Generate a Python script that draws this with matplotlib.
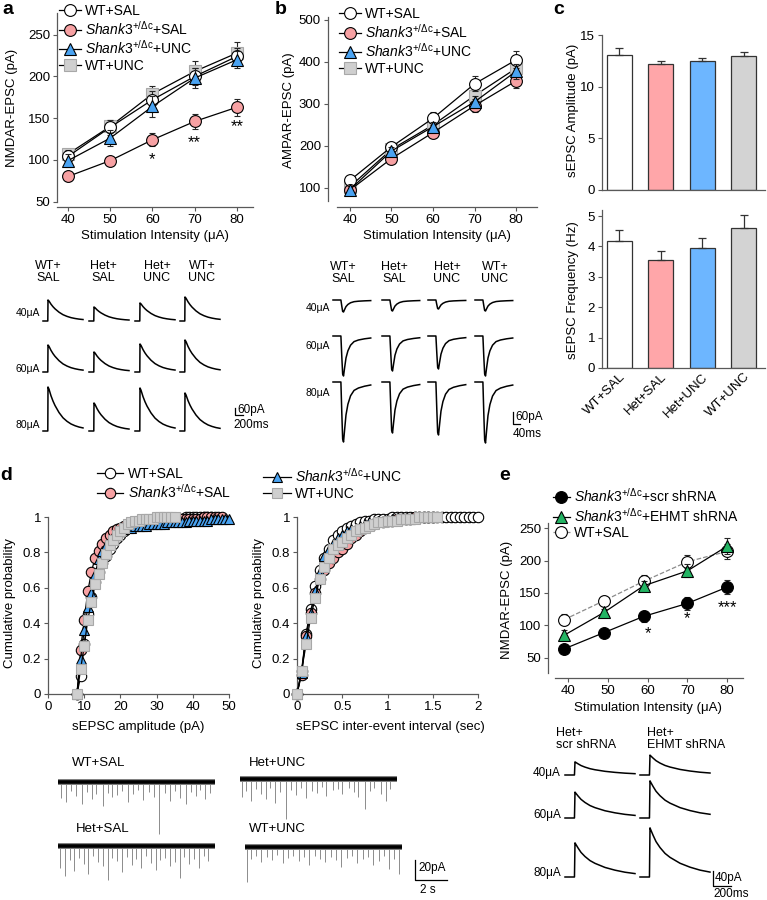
import numpy as np
import matplotlib
matplotlib.use("Agg")
import matplotlib.pyplot as plt
from matplotlib.lines import Line2D

plt.rcParams['font.family'] = ['Liberation Sans', 'DejaVu Sans']
plt.rcParams['mathtext.fontset'] = 'custom'
plt.rcParams['mathtext.rm'] = 'Liberation Sans'
plt.rcParams['mathtext.it'] = 'Liberation Sans:italic'
plt.rcParams['mathtext.bf'] = 'Liberation Sans:bold'

W, H = 767, 900
SH = r'$\mathit{Shank3}^{+/\Delta\mathrm{c}}$'

PINK = '#F7A1A3'
BLUE = '#4AA3F2'
LGRAY = '#CFCFCF'
GREEN = '#23B463'
SPINE = '0.35'
FS = 9.5

# ---------------- data ----------------
stim = [40, 50, 60, 70, 80]

# a: NMDAR-EPSC
nmda_wt_sal = [104, 139, 172, 200, 224]
nmda_wt_sal_err = [8, 9, 10, 10, 10]
nmda_het_sal = [80, 99, 124, 146, 163]
nmda_het_sal_err = [5, 4, 8, 9, 10]
nmda_het_unc = [99, 126, 164, 198, 220]
nmda_het_unc_err = [8, 10, 13, 12, 10]
nmda_wt_unc = [107, 140, 179, 206, 228]
nmda_wt_unc_err = [6, 8, 10, 12, 13]
nmda_stars = [(60, 100, '*'), (70, 120, '**'), (80, 140, '**')]

# b: AMPAR-EPSC
ampa_wt_sal = [118, 198, 266, 348, 405]
ampa_wt_sal_err = [10, 12, 15, 18, 20]
ampa_het_sal = [95, 170, 232, 296, 355]
ampa_het_sal_err = [8, 10, 12, 16, 18]
ampa_het_unc = [96, 188, 246, 305, 378]
ampa_het_unc_err = [8, 10, 12, 14, 18]
ampa_wt_unc = [103, 192, 250, 320, 385]
ampa_wt_unc_err = [8, 10, 12, 15, 18]

# c: sEPSC bars
groups = ['WT+SAL', 'Het+SAL', 'Het+UNC', 'WT+UNC']
bar_colors = ['white', '#FFA6A9', '#6DB6FF', '#D3D3D3']
amp_mean = [13.1, 12.2, 12.5, 13.0]
amp_err = [0.6, 0.3, 0.3, 0.4]
freq_mean = [4.18, 3.55, 3.95, 4.62]
freq_err = [0.35, 0.30, 0.33, 0.42]

# d: cumulative probability
amp_x_wt_sal = np.arange(8, 46)
cum_amp_wt_sal = [0, .10, .28, .45, .55, .63, .69, .74, .78, .82, .85, .88, .90, .92, .94, .95,
                  .96, .97, .97, .98, .98, .98, .99, .99, .99, .99, .99, .99, .99, .99,
                  1, 1, 1, 1, 1, 1, 1, 1]
amp_x_het_sal = np.arange(8, 49)
cum_amp_het_sal = [0, .25, .42, .58, .69, .77, .81, .85, .88, .90, .92, .93, .94, .95, .95, .96,
                   .96, .96, .97, .97, .97, .97, .98, .98, .98, .98, .98, .98, .99, .99, .99,
                   .99, .99, .99, .99, 1, 1, 1, 1, 1, 1]
amp_x_het_unc = np.arange(8, 51)
cum_amp_het_unc = [0, .20, .36, .49, .57, .68, .76, .81, .84, .87, .89, .91, .92, .93, .94, .94,
                   .95, .95, .95, .95, .96, .96, .96, .96, .96, .97, .97, .97, .97, .97, .97,
                   .98, .98, .98, .98, .98, .98, .99, .99, .99, .99, .99, .99]
amp_x_wt_unc = np.arange(8, 36)
cum_amp_wt_unc = [0, .14, .27, .42, .52, .62, .68, .74, .79, .84, .87, .90, .92, .94, .96, .97,
                  .98, .98, .99, .99, .99, .99, 1, 1, 1, 1, 1, 1]

iei_x_wt_sal = np.round(np.arange(0, 41) * 0.05, 2)
cum_iei_wt_sal = [0, .13, .34, .48, .61, .70, .77, .82, .87, .90, .92, .94, .95, .96, .97, .98,
                  .98, .99, .99, .99, .99] + [1] * 20
iei_x_het_sal = np.round(np.arange(0, 31) * 0.05, 2)
cum_iei_het_sal = [0, .11, .33, .46, .57, .65, .70, .74, .77, .80, .82, .85, .88, .90, .92, .94,
                   .95, .96, .97, .97, .98, .98, .99, .99, .99, .99, 1, 1, 1, 1, 1]
iei_x_het_unc = np.round(np.arange(0, 31) * 0.05, 2)
cum_iei_het_unc = [0, .12, .33, .46, .58, .69, .78, .82, .85, .88, .90, .92, .93, .94, .95, .96,
                   .97, .97, .98, .98, .98, .99, .99, .99, .99, .99, 1, 1, 1, 1, 1]
iei_x_wt_unc = np.round(np.arange(0, 32) * 0.05, 2)
cum_iei_wt_unc = [0, .13, .28, .43, .54, .65, .72, .77, .82, .84, .86, .88, .90, .92, .93, .94,
                  .95, .96, .97, .97, .98, .98, .98, .99, .99, .99, .99, 1, 1, 1, 1, 1]

# e: NMDAR-EPSC with shRNA
e_x = [39, 49, 59, 70, 80]
e_scr = [64, 89, 114, 134, 159]
e_scr_err = [4, 5, 9, 10, 11]
e_ehmt = [85, 120, 161, 184, 222]
e_ehmt_err = [8, 6, 8, 10, 12]
e_wt = [109, 138, 168, 198, 214]
e_wt_err = [9, 8, 9, 10, 12]
e_stars = [(60, 88, '*'), (70, 110, '*'), (80, 128, '***')]

# example traces: normalised templates and peak amplitudes (pA)
nmda_t = [0, 120, 125, 150, 200, 250, 300, 400, 500, 600, 700, 800, 900, 1000]
nmda_y = [0, 0, 1, .95, .80, .68, .58, .42, .30, .22, .16, .12, .09, .07]
nmda_peaks = [[168, 112, 144, 192],
              [216, 160, 224, 256],
              [352, 224, 344, 304]]
ampa_t = [0, 45, 50, 55, 60, 66, 74, 85, 100, 120, 145, 180, 215]
ampa_y = [0, 0, -.5, -.95, -1, -.8, -.55, -.37, -.23, -.14, -.10, -.07, -.05]
ampa_peaks = [[60, 55, 45, 55],
              [200, 175, 165, 200],
              [300, 255, 265, 305]]
shrna_t = [0, 105, 111, 122, 145, 178, 222, 278, 333, 444, 555, 666, 777]
shrna_y = [0, 0, 1, .95, .85, .72, .60, .48, .40, .28, .20, .14, .10]
shrna_peaks = [[35, 53],
               [69, 99],
               [91, 131]]

# spontaneous events (time s, amplitude pA)
sp_wt_sal_t = [0.2, 0.5, 0.8, 1.1, 1.5, 1.8, 2.1, 2.4, 2.8, 3.1, 3.4, 3.7, 4.0, 4.4, 4.7, 5.0,
               5.3, 5.7, 6.0, 6.3, 6.7, 7.0, 7.3, 7.6, 8.0, 8.3, 8.6, 8.9, 9.2, 9.5]
sp_wt_sal_a = [16, 20, 9, 14, 22, 10, 17, 12, 24, 11, 15, 13, 9, 20, 12, 8,
               18, 10, 15, 52, 11, 19, 9, 16, 22, 10, 14, 8, 17, 11]
sp_het_unc_t = [0.1, 0.4, 0.7, 1.0, 1.3, 1.6, 1.9, 2.2, 2.5, 2.9, 3.2, 3.5, 3.8, 4.1, 4.5, 4.8,
                5.1, 5.4, 5.8, 6.1, 6.4, 6.8, 7.1, 7.4, 7.8, 8.1, 8.4, 8.8, 9.1, 9.4]
sp_het_unc_a = [18, 12, 22, 10, 15, 20, 9, 24, 13, 40, 11, 16, 9, 19, 12, 14,
                8, 17, 11, 10, 15, 9, 13, 18, 30, 12, 9, 15, 22, 10]
sp_het_sal_t = [0.15, 0.45, 0.75, 1.0, 1.3, 1.6, 1.9, 2.2, 2.5, 2.8, 3.1, 3.4, 3.7, 4.0, 4.3, 4.6,
                4.9, 5.2, 5.5, 5.8, 6.1, 6.4, 6.7, 7.0, 7.3, 7.6, 7.9, 8.2, 8.5, 8.8, 9.1, 9.4]
sp_het_sal_a = [22, 30, 14, 25, 12, 18, 28, 10, 16, 20, 34, 12, 15, 26, 11, 19,
                13, 22, 10, 17, 24, 14, 12, 20, 16, 32, 11, 18, 13, 22, 10, 15]
sp_wt_unc_t = [0.1, 0.4, 0.7, 1.0, 1.4, 1.7, 2.0, 2.4, 2.7, 3.0, 3.4, 3.7, 4.0, 4.4, 4.7, 5.0,
               5.4, 5.7, 6.0, 6.4, 6.7, 7.0, 7.4, 7.7, 8.0, 8.4, 8.7, 9.0, 9.3, 9.6]
sp_wt_unc_a = [35, 12, 9, 15, 10, 13, 8, 16, 11, 9, 14, 10, 18, 9, 12, 15,
               10, 13, 20, 11, 9, 16, 12, 10, 18, 14, 9, 22, 12, 27]
SP_LEN = 9.8


# ---------------- helpers ----------------
def rect(l, t, w, h):
    return [l / W, 1 - (t + h) / H, w / W, h / H]


def ftext(x, y, s, **kw):
    kw.setdefault('fontsize', FS)
    fig.text(x / W, 1 - y / H, s, **kw)


def style(ax, left_out=0, bottom_out=0):
    for s in ['top', 'right']:
        ax.spines[s].set_visible(False)
    for s in ['left', 'bottom']:
        ax.spines[s].set_color(SPINE)
        ax.spines[s].set_linewidth(0.9)
    ax.spines['left'].set_position(('outward', left_out))
    ax.spines['bottom'].set_position(('outward', bottom_out))
    ax.tick_params(direction='out', length=3, width=0.8, colors=SPINE,
                   labelcolor='k', labelsize=FS, pad=2)
    ax.patch.set_alpha(0)


def series(ax, x, y, err, m, fc, z, ms=8.5, ls='-', lc='k', mec='k'):
    if err is not None:
        ax.errorbar(x, y, yerr=err, fmt='none', ecolor='0.15', elinewidth=0.8,
                    capsize=2, capthick=0.8, zorder=z)
    ax.plot(x, y, ls=ls, color=lc, lw=0.9, marker=m, ms=ms, mfc=fc, mec=mec,
            mew=0.8, zorder=z, clip_on=False)
    return Line2D([], [], ls=ls, color=lc, lw=0.9, marker=m, ms=ms, mfc=fc,
                  mec=mec, mew=0.8)


def block(l, t, w, h, sx, sy):
    # axes whose data units are (time, current) with given units per pixel
    ax = fig.add_axes(rect(l, t, w, h))
    ax.set_xlim(0, w * sx)
    ax.set_ylim(-h * sy, 0)
    ax.axis('off')
    ax.blk = (l, t, sx, sy)
    return ax


def bx(ax, px):
    return (px - ax.blk[0]) * ax.blk[2]


def by(ax, py):
    return -(py - ax.blk[1]) * ax.blk[3]


def evoked(ax, x0, y0, tt, yy, amp):
    ax.plot(bx(ax, x0) + np.asarray(tt), by(ax, y0) + amp * np.asarray(yy),
            color='k', lw=1.1)


def scalebar(ax, x0, y0, vlen, hlen):
    xa, ya = bx(ax, x0), by(ax, y0)
    ax.plot([xa, xa, xa + hlen], [ya + vlen, ya, ya], color='k', lw=0.9)


fig = plt.figure(figsize=(W / 100, H / 100), dpi=100)

# ---------------- panel a ----------------
ax = fig.add_axes(rect(57, 13, 196, 188.5))
style(ax, 0, 4.3)
hs = [series(ax, stim, nmda_wt_unc, nmda_wt_unc_err, 's', LGRAY, 2, ms=8, mec='#A8A8A8'),
      series(ax, stim, nmda_wt_sal, nmda_wt_sal_err, 'o', 'white', 3),
      series(ax, stim, nmda_het_sal, nmda_het_sal_err, 'o', PINK, 4),
      series(ax, stim, nmda_het_unc, nmda_het_unc_err, '^', BLUE, 5, ms=8.5)]
for x, y, s in nmda_stars:
    ax.text(x, y, s, ha='center', va='center', fontsize=12)
ax.set_xlim(37.4, 83.8)
ax.set_ylim(50, 276)
ax.set_xticks(stim)
ax.set_yticks([50, 100, 150, 200, 250])
ax.legend([hs[1], hs[2], hs[3], hs[0]],
          ['WT+SAL', SH + '+SAL', SH + '+UNC', 'WT+UNC'],
          loc='upper left', bbox_to_anchor=(59 / W, 1 - 4 / H), bbox_transform=fig.transFigure,
          frameon=False, fontsize=FS + 0.5, handlelength=1.6, handletextpad=0.3,
          labelspacing=0.12, borderpad=0, borderaxespad=0)
ftext(12, 108, 'NMDAR-EPSC (pA)', rotation=90, ha='center', va='center')
ftext(155, 236, 'Stimulation Intensity (\u03bcA)', ha='center', va='center')

# ---------------- panel b ----------------
ax = fig.add_axes(rect(337, 17, 200, 184))
style(ax, 6.5, 4.3)
hs = [series(ax, stim, ampa_wt_unc, ampa_wt_unc_err, 's', LGRAY, 2, ms=8, mec='#A8A8A8'),
      series(ax, stim, ampa_wt_sal, ampa_wt_sal_err, 'o', 'white', 3),
      series(ax, stim, ampa_het_sal, ampa_het_sal_err, 'o', PINK, 4),
      series(ax, stim, ampa_het_unc, ampa_het_unc_err, '^', BLUE, 5, ms=8.5)]
ax.set_xlim(36.9, 85)
ax.set_ylim(69, 507)
ax.set_xticks(stim)
ax.set_yticks([100, 200, 300, 400, 500])
ax.legend([hs[1], hs[2], hs[3], hs[0]],
          ['WT+SAL', SH + '+SAL', SH + '+UNC', 'WT+UNC'],
          loc='upper left', bbox_to_anchor=(339 / W, 1 - 7 / H), bbox_transform=fig.transFigure,
          frameon=False, fontsize=FS + 0.5, handlelength=1.6, handletextpad=0.3,
          labelspacing=0.12, borderpad=0, borderaxespad=0)
ftext(289, 110, 'AMPAR-EPSC (pA)', rotation=90, ha='center', va='center')
ftext(437, 236, 'Stimulation Intensity (\u03bcA)', ha='center', va='center')

# ---------------- panel c ----------------
xb = np.arange(len(groups))
for (t, h, vals, errs, top, ticks, lab, ly) in [
        (35, 155, amp_mean, amp_err, 15, [0, 5, 10, 15], 'sEPSC Amplitude (pA)', 110),
        (210, 158, freq_mean, freq_err, 5.2, [0, 1, 2, 3, 4, 5], 'sEPSC Frequency (Hz)', 290)]:
    ax = fig.add_axes(rect(602, t, 163, h))
    style(ax)
    ax.bar(xb, vals, 0.61, color=bar_colors, edgecolor='0.2', lw=0.9,
           yerr=[np.zeros(len(vals)), errs], capsize=3,
           error_kw=dict(elinewidth=0.9, ecolor='0.2', capthick=0.9))
    ax.set_xlim(-0.415, 3.51)
    ax.set_ylim(0, top)
    ax.set_yticks(ticks)
    ax.set_xticks(xb)
    ax.tick_params(axis='x', length=0)
    if top == 15:
        ax.set_xticklabels([])
    else:
        ax.set_xticklabels(groups, rotation=45, ha='right', rotation_mode='anchor')
    ftext(573, ly, lab, rotation=90, ha='center', va='center')

# ---------------- panel d ----------------
d_styles = [('o', 'white', 2, 7.5), ('o', PINK, 3, 7.5), ('^', BLUE, 4, 7.5), ('s', LGRAY, 5, 7)]
for l, xs_list, ys_list, xlim, xt, xtl, xlab, xc in [
        (48, [amp_x_wt_sal, amp_x_het_sal, amp_x_het_unc, amp_x_wt_unc],
         [cum_amp_wt_sal, cum_amp_het_sal, cum_amp_het_unc, cum_amp_wt_unc],
         (0, 50), [0, 10, 20, 30, 40, 50], None, 'sEPSC amplitude (pA)', 138),
        (297, [iei_x_wt_sal, iei_x_het_sal, iei_x_het_unc, iei_x_wt_unc],
         [cum_iei_wt_sal, cum_iei_het_sal, cum_iei_het_unc, cum_iei_wt_unc],
         (0, 2), [0, 0.5, 1, 1.5, 2], ['0', '0.5', '1', '1.5', '2'],
         'sEPSC inter-event interval (sec)', 390)]:
    ax = fig.add_axes(rect(l, 517, 181, 177))
    style(ax)
    for (m, fc, z, ms), xs, ys in zip(d_styles, xs_list, ys_list):
        mec = '#A8A8A8' if fc == LGRAY else 'k'
        series(ax, xs, ys, None, m, fc, z, ms=ms, mec=mec)
    ax.set_xlim(*xlim)
    ax.set_ylim(0, 1)
    ax.set_xticks(xt)
    if xtl:
        ax.set_xticklabels(xtl)
    ax.set_yticks([0, 0.2, 0.4, 0.6, 0.8, 1])
    ax.set_yticklabels(['0', '0.2', '0.4', '0.6', '0.8', '1'])
    ftext(l - 38, 603, 'Cumulative probability', rotation=90, ha='center', va='center')
    ftext(xc, 727, xlab, ha='center', va='center')

dh = [Line2D([], [], color='k', lw=0.9, marker=m, ms=ms, mfc=fc,
             mec='#A8A8A8' if fc == LGRAY else 'k', mew=0.8) for m, fc, z, ms in d_styles]
fig.legend([dh[0], dh[1]], ['WT+SAL', SH + '+SAL'], loc='upper left',
           bbox_to_anchor=(97 / W, 1 - 467 / H), frameon=False, fontsize=FS + 0.5,
           handlelength=1.9, handletextpad=0.3, labelspacing=0.12, borderpad=0, borderaxespad=0)
fig.legend([dh[2], dh[3]], [SH + '+UNC', 'WT+UNC'], loc='upper left',
           bbox_to_anchor=(263 / W, 1 - 467 / H), frameon=False, fontsize=FS + 0.5,
           handlelength=2.0, handletextpad=0.3, labelspacing=0.12, borderpad=0, borderaxespad=0)

# spontaneous traces
ax = block(40, 740, 430, 160, 2 / 32, 1.0)
for x0, y0, ts, amps, lab, lx, ly in [
        (58, 782, sp_wt_sal_t, sp_wt_sal_a, 'WT+SAL', 72, 763),
        (240, 779, sp_het_unc_t, sp_het_unc_a, 'Het+UNC', 249, 763),
        (58, 846, sp_het_sal_t, sp_het_sal_a, 'Het+SAL', 76, 829),
        (245, 847, sp_wt_unc_t, sp_wt_unc_a, 'WT+UNC', 249, 829)]:
    xa, ya = bx(ax, x0), by(ax, y0)
    ax.vlines(xa + np.asarray(ts), ya - np.asarray(amps), ya, color='0.55', lw=0.7)
    ax.plot([xa, xa + SP_LEN], [ya, ya], color='0.5', lw=4.3, solid_capstyle='butt')
    ax.plot([xa, xa + SP_LEN], [ya, ya], color='k', lw=2.6, solid_capstyle='butt')
    ftext(lx, ly, lab, ha='left', va='center', fontsize=FS)
scalebar(ax, 415, 880, 20, 2)
ftext(418, 868, '20pA', ha='left', va='center', fontsize=8.5)
ftext(420, 890, '2 s', ha='left', va='center', fontsize=8.5)

# ---------------- panel e ----------------
ax = fig.add_axes(rect(555, 523, 188, 150))
style(ax, 5, 3.6)
he = [series(ax, e_x, e_wt, e_wt_err, 'o', 'white', 2, ls='--', lc='0.55'),
      series(ax, e_x, e_ehmt, e_ehmt_err, '^', GREEN, 3, ms=8),
      series(ax, e_x, e_scr, e_scr_err, 'o', 'k', 4)]
for x, y, s in e_stars:
    ax.text(x, y, s, ha='center', va='center', fontsize=12)
ax.set_xlim(36.7, 84)
ax.set_ylim(26.9, 257.7)
ax.set_xticks(stim)
ax.set_yticks([50, 100, 150, 200, 250])
ax.legend([he[2], he[1], he[0]],
          [SH + '+scr shRNA', SH + '+EHMT shRNA', 'WT+SAL'],
          loc='upper left', bbox_to_anchor=(553 / W, 1 - 487 / H), bbox_transform=fig.transFigure,
          frameon=False, fontsize=FS + 0.5, handlelength=1.2, handletextpad=0.3,
          labelspacing=0.12, borderpad=0, borderaxespad=0)
ftext(507, 600, 'NMDAR-EPSC (pA)', rotation=90, ha='center', va='center')
ftext(648, 708, 'Stimulation Intensity (\u03bcA)', ha='center', va='center')

# ---------------- evoked traces ----------------
hdr = ['WT+\nSAL', 'Het+\nSAL', 'Het+\nUNC', 'WT+\nUNC']
rows = ['40\u03bcA', '60\u03bcA', '80\u03bcA']

# a traces (25 ms/px, 8 pA/px)
ax = block(20, 255, 260, 190, 25, 8)
for r, y0 in enumerate([321, 372, 431]):
    for c, x0 in enumerate([43, 89, 135, 180]):
        evoked(ax, x0, y0, nmda_t, nmda_y, nmda_peaks[r][c])
for c, xc in enumerate([48, 103, 157, 202]):
    ftext(xc, 272, hdr[c], ha='center', va='center', fontsize=9, linespacing=1.0)
for r, yl in enumerate([313, 369, 425]):
    ftext(40, yl, rows[r], ha='right', va='center', fontsize=7.5)
scalebar(ax, 235, 415, 60, 200)
ftext(237, 410, '60pA', ha='left', va='center', fontsize=8.5)
ftext(233, 425, '200ms', ha='left', va='center', fontsize=8.5)

# b traces (5.7 ms/px, 5 pA/px)
ax = block(300, 255, 240, 200, 5.7, 5)
for r, y0 in enumerate([300, 336, 382]):
    for c, x0 in enumerate([333, 382, 428, 475]):
        evoked(ax, x0, y0, ampa_t, ampa_y, ampa_peaks[r][c])
for c, xc in enumerate([343, 394, 447, 495]):
    ftext(xc, 273, hdr[c], ha='center', va='center', fontsize=9, linespacing=1.0)
for r, yl in enumerate([308, 346, 393]):
    ftext(330, yl, rows[r], ha='right', va='center', fontsize=7.5)
scalebar(ax, 513, 424, 60, 40)
ftext(515, 417, '60pA', ha='left', va='center', fontsize=8.5)
ftext(513, 434, '40ms', ha='left', va='center', fontsize=8.5)

# e traces (11.1 ms/px, 2.67 pA/px)
ax = block(520, 720, 247, 180, 11.1, 40 / 15)
for r, y0 in enumerate([775, 818, 877]):
    for c, x0 in enumerate([565, 640]):
        evoked(ax, x0, y0, shrna_t, shrna_y, shrna_peaks[r][c])
ftext(556, 739, 'Het+\nscr shRNA', ha='left', va='center', fontsize=9, linespacing=1.0)
ftext(647, 739, 'Het+\nEHMT shRNA', ha='left', va='center', fontsize=9, linespacing=1.0)
for r, yl in enumerate([773, 815, 873]):
    ftext(561, yl, rows[r], ha='right', va='center', fontsize=8.5)
scalebar(ax, 713, 886, 40, 200)
ftext(715, 878, '40pA', ha='left', va='center', fontsize=8.5)
ftext(713, 894, '200ms', ha='left', va='center', fontsize=8.5)

# panel letters
for s, x, y in [('a', 8, 10), ('b', 281, 10), ('c', 559, 10), ('d', 6, 476), ('e', 505, 476)]:
    ftext(x, y, s, ha='center', va='center', fontsize=14, fontweight='bold')

fig.savefig('out.png', dpi=100)
